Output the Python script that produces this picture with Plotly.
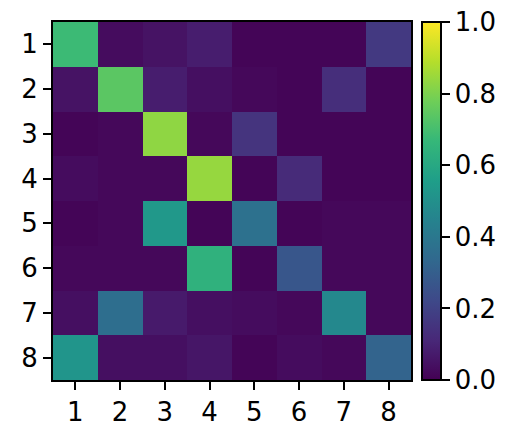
import plotly.graph_objects as go

labels = ["1", "2", "3", "4", "5", "6", "7", "8"]
values = [
    [0.68, 0.03, 0.05, 0.08, 0.01, 0.01, 0.01, 0.17],
    [0.05, 0.74, 0.08, 0.04, 0.02, 0.01, 0.13, 0.01],
    [0.01, 0.02, 0.83, 0.02, 0.15, 0.01, 0.01, 0.01],
    [0.03, 0.02, 0.02, 0.84, 0.01, 0.12, 0.01, 0.01],
    [0.01, 0.02, 0.53, 0.01, 0.37, 0.01, 0.02, 0.02],
    [0.02, 0.02, 0.02, 0.64, 0.01, 0.27, 0.02, 0.02],
    [0.04, 0.36, 0.07, 0.04, 0.03, 0.02, 0.47, 0.02],
    [0.52, 0.04, 0.04, 0.06, 0.01, 0.03, 0.02, 0.32],
]
cbar_ticks = [0, 0.2, 0.4, 0.6, 0.8, 1.0]
cbar_text = ["0.0", "0.2", "0.4", "0.6", "0.8", "1.0"]

font = dict(size=26, color="black", family="DejaVu Sans")

fig = go.Figure(go.Heatmap(
    z=values, x=labels, y=labels,
    colorscale="Viridis", zmin=0, zmax=1,
    colorbar=dict(
        x=1.031, xanchor="left", xpad=0, y=0.5, yanchor="middle", ypad=0,
        len=1.0, lenmode="fraction", thickness=19,
        outlinewidth=2, outlinecolor="black",
        ticks="outside", ticklen=8, tickwidth=2, tickcolor="black",
        tickvals=cbar_ticks, ticktext=cbar_text,
        tickfont=font,
    ),
))

fig.update_layout(
    width=523, height=432,
    margin=dict(l=53, r=112, t=22, b=52, autoexpand=False),
    plot_bgcolor="white", paper_bgcolor="white",
    font=font,
)
fig.update_xaxes(showline=True, linecolor="black", linewidth=2, mirror=True,
                 ticks="outside", ticklen=8, tickwidth=2, tickcolor="black",
                 tickfont=font, showgrid=False, zeroline=False)
fig.update_yaxes(showline=True, linecolor="black", linewidth=2, mirror=True,
                 ticks="outside", ticklen=8, tickwidth=2, tickcolor="black",
                 tickfont=font, showgrid=False, zeroline=False, autorange="reversed")

fig.write_html("out.html",
               config={"displayModeBar": False},
               post_script="document.body.style.margin='0';document.body.style.padding='0';")
